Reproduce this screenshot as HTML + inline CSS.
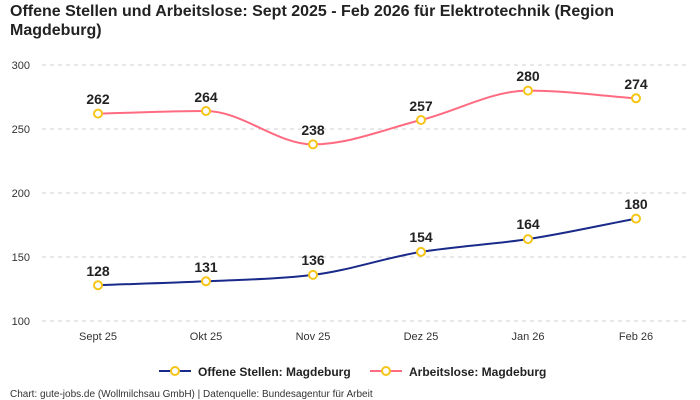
<!DOCTYPE html>
<html><head><meta charset="utf-8"><style>
body{margin:0;background:#fff;}
svg{display:block;font-family:"Liberation Sans",sans-serif;}
</style></head><body>
<svg width="700" height="400" xmlns="http://www.w3.org/2000/svg">
<rect width="700" height="400" fill="#fff"/>
<text x="10" y="16" font-size="16" font-weight="bold" fill="#222">Offene Stellen und Arbeitslose: Sept 2025 - Feb 2026 für Elektrotechnik (Region</text>
<text x="10" y="35" font-size="16" font-weight="bold" fill="#222">Magdeburg)</text>
<g stroke="#d0d0d0" stroke-dasharray="4,4" stroke-width="1">
<line x1="42" x2="690" y1="65" y2="65"/><line x1="42" x2="690" y1="129" y2="129"/>
<line x1="42" x2="690" y1="193" y2="193"/><line x1="42" x2="690" y1="257" y2="257"/>
<line x1="42" x2="690" y1="321" y2="321"/></g>
<g font-size="11" fill="#333" text-anchor="end">
<text x="30" y="69">300</text><text x="30" y="133">250</text><text x="30" y="197">200</text><text x="30" y="261">150</text><text x="30" y="325">100</text></g>
<g font-size="11" fill="#333" text-anchor="middle">
<text x="98" y="340">Sept 25</text><text x="206" y="340">Okt 25</text><text x="313" y="340">Nov 25</text><text x="421" y="340">Dez 25</text><text x="528" y="340">Jan 26</text><text x="636" y="340">Feb 26</text></g>
<path d="M98,113.6 C134,112.7 170,111 206,111 C242,111 277,144.4 313,144.4 C349,144.4 385,129 421,120 C457,111 492,90.6 528,90.6 C564,90.6 600,95.7 636,98.3" fill="none" stroke="#ff6b81" stroke-width="2"/>
<path d="M98,285.2 C134,283.9 170,283 206,281.3 C242,279.6 277,279.2 313,274.9 C349,270.6 385,257.7 421,251.9 C457,246.1 492,244.5 528,239.1 C564,233.7 600,225.4 636,218.6" fill="none" stroke="#1a2a8a" stroke-width="2"/>
<g fill="#fff" stroke="#f5c518" stroke-width="2">
<circle cx="98" cy="113.6" r="4"/><circle cx="206" cy="111" r="4"/><circle cx="313" cy="144.4" r="4"/><circle cx="421" cy="120" r="4"/><circle cx="528" cy="90.6" r="4"/><circle cx="636" cy="98.3" r="4"/>
<circle cx="98" cy="285.2" r="4"/><circle cx="206" cy="281.3" r="4"/><circle cx="313" cy="274.9" r="4"/><circle cx="421" cy="251.9" r="4"/><circle cx="528" cy="239.1" r="4"/><circle cx="636" cy="218.6" r="4"/></g>
<g font-size="14" font-weight="bold" fill="#222" text-anchor="middle">
<text x="98" y="104">262</text><text x="206" y="102">264</text><text x="313" y="135">238</text><text x="421" y="111">257</text><text x="528" y="81">280</text><text x="636" y="89">274</text>
<text x="98" y="276">128</text><text x="206" y="272">131</text><text x="313" y="265">136</text><text x="421" y="242">154</text><text x="528" y="229">164</text><text x="636" y="209">180</text></g>
<line x1="159" x2="191" y1="371" y2="371" stroke="#1a2a8a" stroke-width="2"/>
<circle cx="175" cy="371" r="4" fill="#fff" stroke="#f5c518" stroke-width="2"/>
<text x="198" y="376" font-size="12" font-weight="bold" fill="#222">Offene Stellen: Magdeburg</text>
<line x1="370" x2="402" y1="371" y2="371" stroke="#ff6b81" stroke-width="2"/>
<circle cx="386" cy="371" r="4" fill="#fff" stroke="#f5c518" stroke-width="2"/>
<text x="409" y="376" font-size="12" font-weight="bold" fill="#222">Arbeitslose: Magdeburg</text>
<text x="10" y="397" font-size="10" fill="#333">Chart: gute-jobs.de (Wollmilchsau GmbH) | Datenquelle: Bundesagentur für Arbeit</text>
</svg>
</body></html>
